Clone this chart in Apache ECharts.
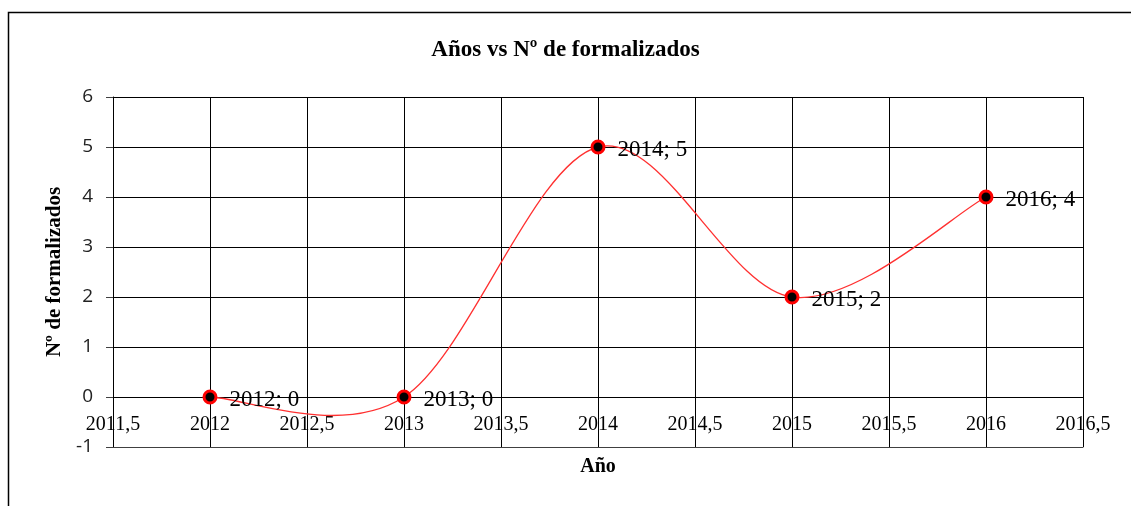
<!DOCTYPE html>
<html>
<head>
<meta charset="utf-8">
<script src="https://cdn.jsdelivr.net/npm/echarts@6/dist/echarts.min.js"></script>
<style>
  html, body { margin: 0; padding: 0; background: #fff; }
  #chart { width: 1131px; height: 506px; }
</style>
</head>
<body>
<div id="chart"></div>
<script>
// datos del gráfico
const years = [2012, 2013, 2014, 2015, 2016];
const formalizados = [0, 0, 5, 2, 4];
const xMin = 2011.5, xMax = 2016.5, xStep = 0.5;
const yMin = -1, yMax = 6, yStep = 1;

const serif = '"Liberation Serif", "Times New Roman", serif';
const sans = '"Open Sans", "Noto Sans", sans-serif';

const points = years.map((y, i) => [y, formalizados[i]]);

const chart = echarts.init(document.getElementById('chart'));

// curva suavizada tipo Excel (Catmull-Rom), un tramo por punto
function renderSegment(params, api) {
  const i = params.dataIndex;
  if (i >= points.length - 1) return null;
  const p0 = points[Math.max(i - 1, 0)];
  const p1 = points[i];
  const p2 = points[i + 1];
  const p3 = points[Math.min(i + 2, points.length - 1)];
  const a = api.coord(p1);
  const b = api.coord(p2);
  const c1 = api.coord([p1[0] + (p2[0] - p0[0]) / 6, p1[1] + (p2[1] - p0[1]) / 6]);
  const c2 = api.coord([p2[0] - (p3[0] - p1[0]) / 6, p2[1] - (p3[1] - p1[1]) / 6]);
  return {
    type: 'bezierCurve',
    shape: { x1: a[0], y1: a[1], x2: b[0], y2: b[1], cpx1: c1[0], cpy1: c1[1], cpx2: c2[0], cpy2: c2[1] },
    style: { fill: 'none', stroke: '#ff3030', lineWidth: 1.3 }
  };
}

const option = {
  backgroundColor: '#fff',
  animation: false,
  // marco exterior
  graphic: [{
    type: 'rect',
    shape: { x: 8.5, y: 12.5, width: 1300, height: 700 },
    style: { fill: 'none', stroke: '#000', lineWidth: 1.5 }
  }],
  title: {
    text: 'Años vs Nº de formalizados',
    left: 'center',
    top: 34,
    textStyle: { fontFamily: serif, fontWeight: 'bold', fontSize: 23, color: '#000' }
  },
  grid: { left: 113, right: 48, top: 97, bottom: 59, outerBoundsMode: 'none', containLabel: false },
  xAxis: {
    type: 'value',
    min: xMin, max: xMax, interval: xStep,
    name: 'Año',
    nameLocation: 'middle',
    nameGap: 10,
    nameTextStyle: { fontFamily: serif, fontWeight: 'bold', fontSize: 20, color: '#000' },
    // las etiquetas van sobre la línea del cero
    axisLine: { onZero: false, lineStyle: { color: '#404040', width: 1 } },
    axisTick: { show: false },
    axisLabel: {
      margin: -32,
      fontFamily: serif, fontSize: 20, color: '#000',
      formatter: v => String(v).replace('.', ',')
    },
    splitLine: { show: true, lineStyle: { color: '#000', width: 1 } }
  },
  yAxis: {
    type: 'value',
    min: yMin, max: yMax, interval: yStep,
    name: 'Nº de formalizados',
    nameLocation: 'middle',
    nameGap: 46,
    nameTextStyle: { fontFamily: serif, fontWeight: 'bold', fontSize: 21, color: '#000' },
    axisLine: { show: true, lineStyle: { color: '#000', width: 1 } },
    axisTick: { show: true, length: 7, lineStyle: { color: '#404040' } },
    axisLabel: { margin: 20, fontFamily: sans, fontSize: 19, color: '#222' },
    splitLine: { show: true, lineStyle: { color: '#000', width: 1 } }
  },
  series: [
    {
      type: 'custom',
      data: points,
      renderItem: renderSegment,
      clip: true,
      z: 2,
      silent: true
    },
    {
      type: 'line',
      data: points,
      z: 3,
      lineStyle: { width: 0, opacity: 0 },
      symbol: 'circle',
      symbolSize: 12,
      itemStyle: { color: '#000', borderColor: '#ff0000', borderWidth: 3 },
      label: {
        show: true,
        position: 'right',
        distance: 12,
        offset: [0, 3],
        fontFamily: serif, fontSize: 23, color: '#000',
        formatter: p => p.value[0] + '; ' + p.value[1]
      }
    }
  ]
};

chart.setOption(option);
</script>
</body>
</html>
